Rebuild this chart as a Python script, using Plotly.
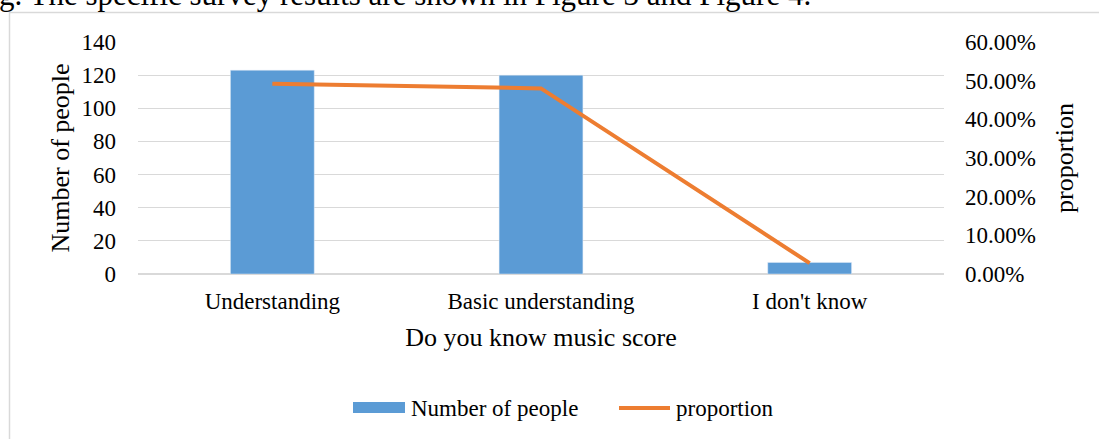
import plotly.graph_objects as go

categories = ["Understanding", "Basic understanding", "I don't know"]
people = [123, 120, 7]
proportion = [0.492, 0.48, 0.028]
left_ticks = [0, 20, 40, 60, 80, 100, 120, 140]
right_ticks = [0.0, 0.1, 0.2, 0.3, 0.4, 0.5, 0.6]

W, H = 1099, 439
L, R, T, B = 138, 155, 42, 165
PW, PH = W - L - R, H - T - B

def px(x):
    return (x - L) / PW

def py(y):
    return (H - B - y) / PH

FONT = "Liberation Serif"
BLUE = "#5b9bd5"
ORANGE = "#ed7d31"
GRID = "#d9d9d9"

fig = go.Figure()
fig.add_trace(go.Bar(
    x=categories, y=people, name="Number of people",
    marker=dict(color=BLUE), width=0.312, yaxis="y", showlegend=False,
))
fig.add_trace(go.Scatter(
    x=categories, y=proportion, name="proportion", mode="lines",
    line=dict(color=ORANGE, width=4), yaxis="y2", showlegend=False,
))

fig.update_layout(
    width=W, height=H,
    margin=dict(l=L, r=R, t=T, b=B),
    paper_bgcolor="white", plot_bgcolor="white",
    font=dict(family=FONT, size=23, color="black"),
    xaxis=dict(
        title=dict(text="Do you know music score", font=dict(size=26), standoff=14),
        showgrid=False, ticks="", showline=False, zeroline=False,
        tickfont=dict(size=23), ticklabelstandoff=11, automargin=False,
    ),
    yaxis=dict(
        title=dict(text="Number of people", font=dict(size=26), standoff=4),
        range=[0, 140], tickvals=left_ticks, showgrid=True, gridcolor=GRID,
        gridwidth=1, zeroline=True, zerolinecolor=GRID, zerolinewidth=2,
        ticks="", ticklabelstandoff=21, automargin=False,
    ),
    yaxis2=dict(
        title=dict(text="proportion", font=dict(size=26), standoff=19),
        range=[0, 0.6], tickvals=right_ticks, tickformat=".2%",
        overlaying="y", side="right", showgrid=False, zeroline=False,
        ticks="", ticklabelstandoff=20, automargin=False,
    ),
)

# page text above the chart frame
fig.add_annotation(
    text="g. The specific survey results are shown in Figure 3 and Figure 4.",
    xref="paper", yref="paper", x=px(-3), y=py(14), xanchor="left", yanchor="bottom",
    showarrow=False, font=dict(size=31, family=FONT), align="left",
)

# chart frame
fig.add_shape(type="rect", xref="paper", yref="paper",
              x0=px(9.5), x1=px(1130), y0=py(12.5), y1=py(470),
              line=dict(color=GRID, width=1.5), layer="below")

# legend
fig.add_shape(type="rect", xref="paper", yref="paper",
              x0=px(353), x1=px(405), y0=py(413), y1=py(402),
              line=dict(width=0), fillcolor=BLUE)
fig.add_shape(type="line", xref="paper", yref="paper",
              x0=px(619), x1=px(670), y0=py(408), y1=py(408),
              line=dict(color=ORANGE, width=4))
fig.add_annotation(text="Number of people", xref="paper", yref="paper",
                   x=px(409), y=py(408), xanchor="left", yanchor="middle",
                   showarrow=False, font=dict(size=23, family=FONT))
fig.add_annotation(text="proportion", xref="paper", yref="paper",
                   x=px(674), y=py(408), xanchor="left", yanchor="middle",
                   showarrow=False, font=dict(size=23, family=FONT))

fig.write_html("out.html")
